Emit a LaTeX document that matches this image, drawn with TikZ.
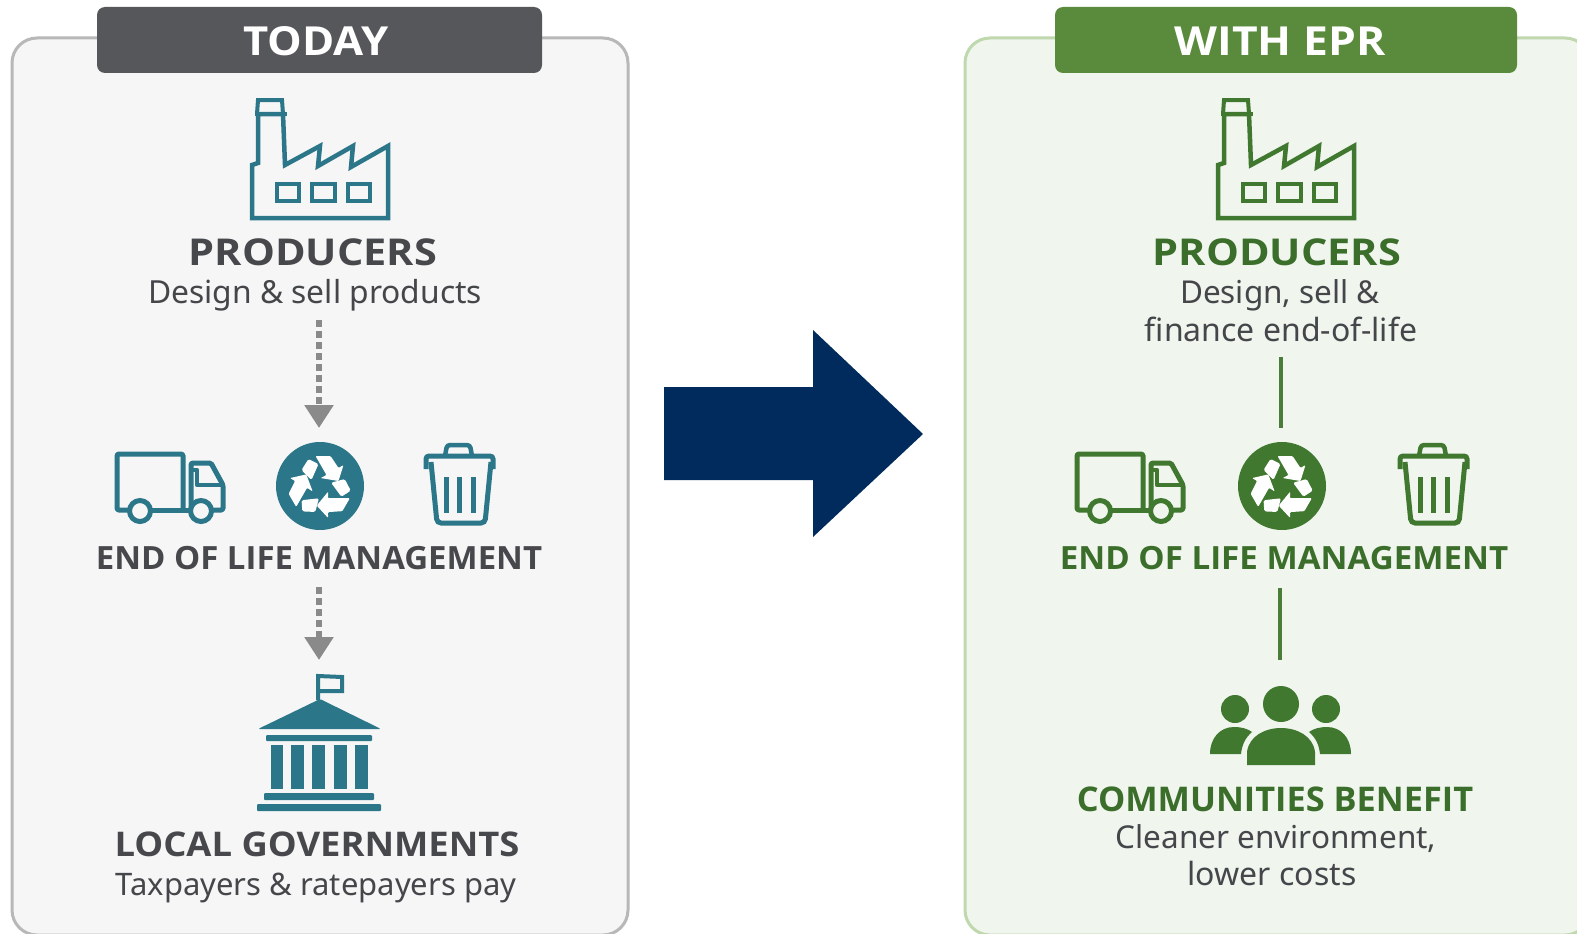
\documentclass[tikz,border=0pt]{standalone}
\usepackage{fontspec}
\usepackage{graphicx}
\setmainfont{Noto Sans}
\newfontfamily\headfam{Open Sans}
\usetikzlibrary{arrows.meta}
\definecolor{tealic}{HTML}{2B7688}
\definecolor{greenic}{HTML}{40782F}
\definecolor{grayhead}{HTML}{55575B}
\definecolor{greenhead}{HTML}{5A8A3C}
\definecolor{graypanel}{HTML}{F6F6F6}
\definecolor{greenpanel}{HTML}{F0F5EE}
\definecolor{grayborder}{HTML}{B8B8B8}
\definecolor{greenborder}{HTML}{BFD8AD}
\definecolor{darktext}{HTML}{46484C}
\definecolor{greentext}{HTML}{3B6E2B}
\definecolor{bodytext}{HTML}{44464A}
\definecolor{navy}{HTML}{002B5C}
\definecolor{dashgray}{HTML}{8A8A8A}
\definecolor{linegreen}{HTML}{4A7C3A}
\newcommand{\fsz}[1]{\fontsize{#1}{#1}\selectfont}
\newcommand{\hd}[3]{\scalebox{#2}[1]{\headfam\fontsize{#1}{#1}\selectfont\bfseries #3}}
\tikzset{
  panel/.style={line width=3pt,rounded corners=25pt},
  headbar/.style={rounded corners=8pt},
  tlabel/.style={anchor=base,inner sep=0pt,text=#1},
  dasharrow/.style={line width=5.5pt,dashgray,dash pattern=on 7pt off 4pt,-{Triangle[length=23pt,width=28pt]}},
  solidline/.style={line width=4.5pt,linegreen},
  factory/.pic={
    \draw[ic,line width=4.5pt,line join=miter]
      (285,165)--(320,146)--(318,166)--(353,146)--(351,167)--(388,146)--(388,218)--(252,218)--(252,165)--(258,163)--(258,114)--(283,114)--cycle;
    \draw[ic,line width=4pt] (257,114)--(258,100)--(282,100)--(283,114);
    \draw[ic,line width=4pt] (255,114)--(287,114);
    \foreach \xa/\xb in {277/299,312/335,348/370}
      \draw[ic,line width=4.5pt] (\xa,184) rectangle (\xb,201);
  },
  truck/.pic={
    \draw[ic,line width=5pt,line join=round,rounded corners=1.5pt]
      (128,510)--(117,510)--(117,454)--(183,454)--(183,510);
    \draw[ic,line width=5pt,line join=round,rounded corners=1.5pt]
      (152,510)--(190,510);
    \draw[ic,line width=5pt,line join=round,rounded corners=1.5pt]
      (191,510)--(191,463)--(211,463)--(223,485)--(223,510)--(213,510);
    \draw[ic,line width=4.5pt,line join=round] (191,470)--(197,470)--(197,485)--(223,485);
    \draw[ic,line width=5pt,fill=pf] (140,511) circle (10.5);
    \draw[ic,line width=5pt,fill=pf] (201,511) circle (10.5);
  },
  recyclearm/.pic={
    \fill[white,rounded corners=1pt]
      (-5,-31)--(10,-31)--(18,-19)--(23,-22)--(18,-6)--(0,-9)--(6,-12)--cycle;
    \fill[white,rounded corners=1.5pt]
      (-19,-17)--(-12,-28)--(-2,-23)--(-9,-7)--cycle;
  },
  recycle/.pic={
    \fill[ic] (320,486) circle (44);
    \begin{scope}[shift={(320.5,487)}]
      \foreach \a in {0,120,240}
        \pic[rotate=\a] {recyclearm};
    \end{scope}
  },
  bin/.pic={
    \draw[ic,line width=5pt,rounded corners=3pt] (426,469)--(426,456)--(493,456)--(493,469);
    \draw[ic,line width=4.5pt,rounded corners=3pt] (445,456)--(447,445)--(470,445)--(472,456);
    \draw[ic,line width=5pt,rounded corners=4pt] (431,462)--(437,523)--(485,523)--(491,462);
    \foreach \x in {446,459,473}
      \draw[ic,line width=5pt] (\x,477)--(\x,513);
  },
  govt/.pic={
    \draw[ic,line width=4pt] (318,700)--(318,676)--(342,677)--(342,691)--(318,691);
    \fill[ic,rounded corners=1.5pt] (320,699)--(381,729)--(258,729)--cycle;
    \fill[ic,rounded corners=1pt] (266,735) rectangle (372,741);
    \foreach \xa/\xb in {271/283,291/304,312/325,334/347,355/368}
      \fill[ic] (\xa,745) rectangle (\xb,789);
    \fill[ic,rounded corners=1pt] (264,793) rectangle (374,800);
    \fill[ic,rounded corners=1pt] (257,804) rectangle (381,811);
  },
  people/.pic={
    \fill[ic] (1281,704) circle (18);
    \fill[ic] (1235,709) circle (14);
    \fill[ic] (1326,709) circle (14);
    \fill[ic] (1247,765)--(1315,765)--(1315,752) .. controls (1313,736) and (1297,728) .. (1281,728) .. controls (1265,728) and (1249,736) .. (1247,752)--cycle;
    \fill[ic] (1210,754) .. controls (1210,738) and (1220,727) .. (1234,727) .. controls (1242,727) and (1248,729) .. (1252,732) .. controls (1245,738) and (1242,745) .. (1241,754)--cycle;
    \fill[ic] (1351,754) .. controls (1351,738) and (1341,727) .. (1327,727) .. controls (1319,727) and (1313,729) .. (1309,732) .. controls (1316,738) and (1319,745) .. (1320,754)--cycle;
  },
}
\begin{document}
\begin{tikzpicture}[x=1pt,y=-1pt]
\useasboundingbox (0,0) rectangle (1577,934);
\fill[white] (0,0) rectangle (1577,934);
\begin{scope}
\clip (0,0) rectangle (1577,934);
\draw[panel,draw=grayborder,fill=graypanel] (12,38) rectangle (628,935);
\draw[panel,draw=greenborder,fill=greenpanel] (965,38) rectangle (1590,935);
\end{scope}
% headers
\fill[headbar,fill=grayhead] (97,7) rectangle (542,73);
\fill[headbar,fill=greenhead] (1055,7) rectangle (1517,73);
\node[tlabel=white] (hToday) at (316,56) {\hd{40}{1.09}{TODAY}};
\node[tlabel=white] (hEpr) at (1280,56) {\hd{40}{1.11}{WITH EPR}};
% left column
\colorlet{ic}{tealic}\colorlet{pf}{graypanel}
\pic (lFactory) at (0,0) {factory};
\node[tlabel=darktext] (lProd) at (313,265) {\hd{37}{1.12}{PRODUCERS}};
\node[tlabel=bodytext,font=\fsz{31.8}] (lProdSub) at (315,303) {Design \& sell products};
\pic (lTruck) at (0,0) {truck};
\pic (lRec) at (0,0) {recycle};
\pic (lBin) at (0,0) {bin};
\node[tlabel=darktext] (lEnd) at (319,569) {\hd{32}{1.03}{END OF LIFE MANAGEMENT}};
\pic (lGov) at (0,0) {govt};
\node[tlabel=darktext] (lGovT) at (317,856) {\hd{34}{1.07}{LOCAL GOVERNMENTS}};
\node[tlabel=bodytext,font=\fsz{31}] (lGovS) at (316,895) {Taxpayers \& ratepayers pay};
\coordinate (la1) at (319,320);
\coordinate (la2) at (319,428);
\coordinate (lb1) at (319,587);
\coordinate (lb2) at (319,660);
\draw[dasharrow] (la1)--(la2);
\draw[dasharrow] (lb1)--(lb2);
% big arrow
\fill[navy] (664,387)--(813,387)--(813,330)--(923,434)--(813,537)--(813,480)--(664,480)--cycle;
% right column
\colorlet{ic}{greenic}\colorlet{pf}{greenpanel}
\pic (rFactory) at (966,0) {factory};
\node[tlabel=greentext] (rProd) at (1277,265) {\hd{37}{1.12}{PRODUCERS}};
\node[tlabel=bodytext,font=\fsz{31.5}] (rSub1) at (1280,303) {Design, sell \&};
\node[tlabel=bodytext,font=\fsz{32}] (rSub2) at (1281,341) {finance end-of-life};
\pic (rTruck) at (960,0) {truck};
\pic (rRec) at (962,0) {recycle};
\pic (rBin) at (974,0) {bin};
\node[tlabel=greentext] (rEnd) at (1284,569) {\hd{32}{1.035}{END OF LIFE MANAGEMENT}};
\pic (rPeople) at (0,0) {people};
\node[tlabel=greentext] (rCom) at (1275,811) {\hd{34}{1.01}{COMMUNITIES BENEFIT}};
\node[tlabel=bodytext,font=\fsz{31.5}] (rCl1) at (1276,848) {Cleaner environment,};
\node[tlabel=bodytext,font=\fsz{32}] (rCl2) at (1272,885) {lower costs};
\coordinate (ra1) at (1281,357);
\coordinate (ra2) at (1281,428);
\coordinate (rb1) at (1280,588);
\coordinate (rb2) at (1280,660);
\draw[solidline] (ra1)--(ra2);
\draw[solidline] (rb1)--(rb2);
\end{tikzpicture}
\end{document}
